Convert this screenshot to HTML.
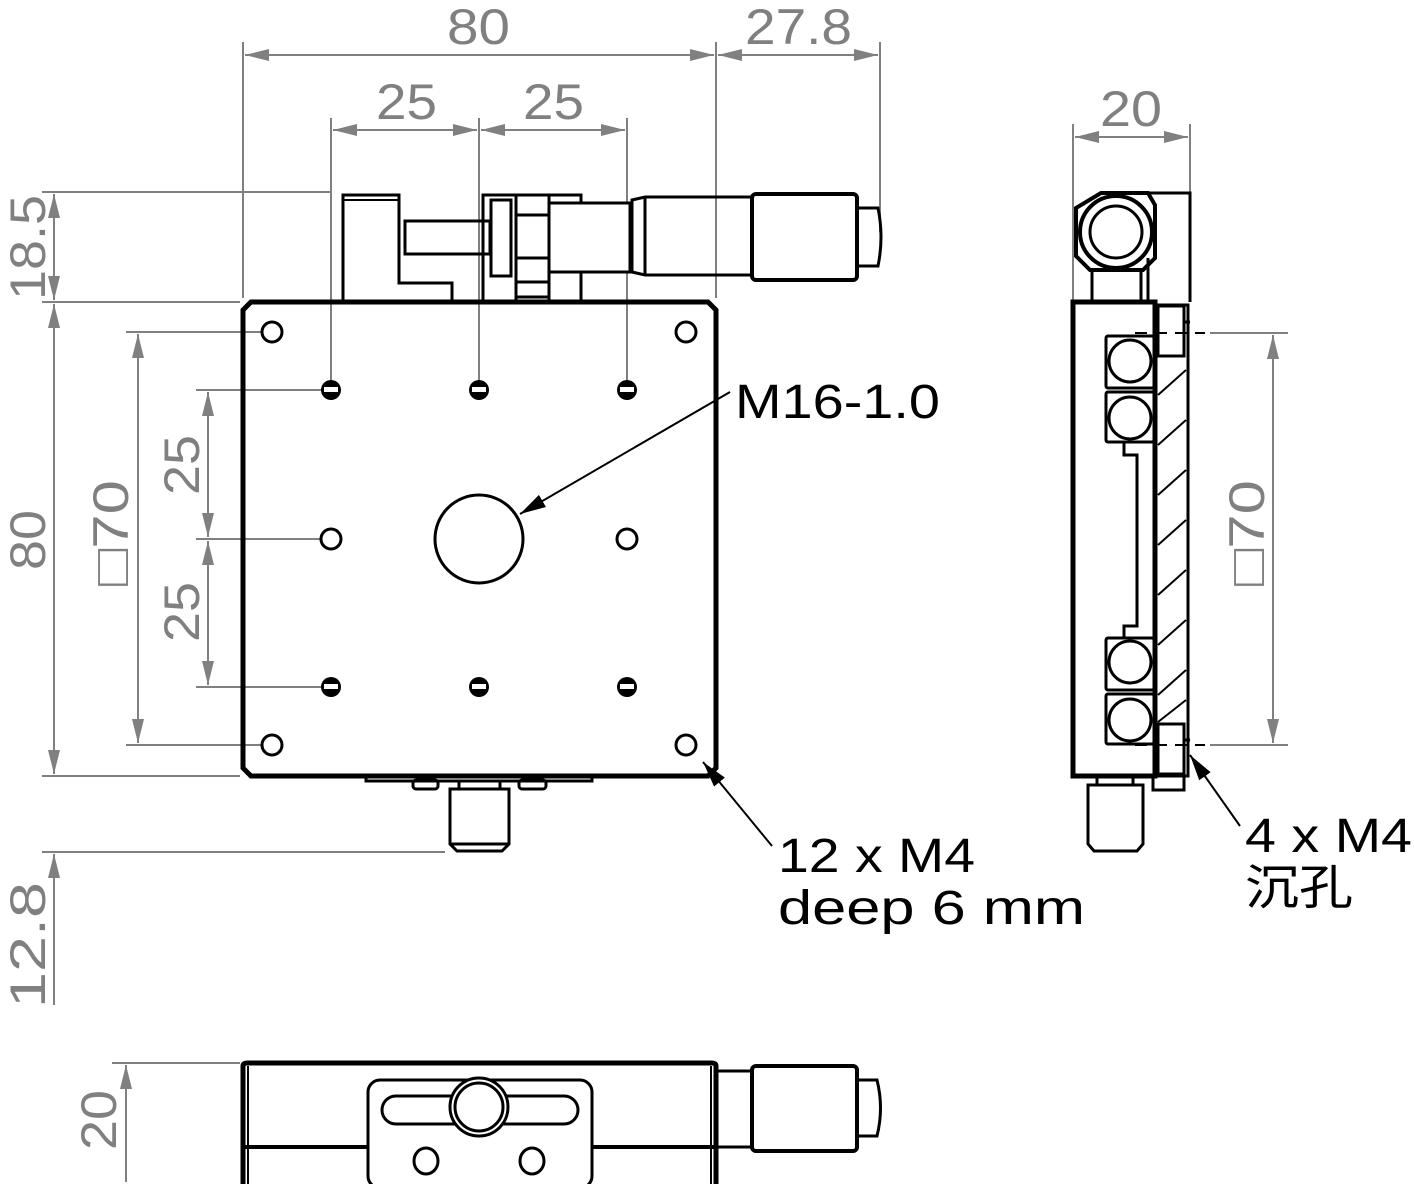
<!DOCTYPE html>
<html><head><meta charset="utf-8"><style>
html,body{margin:0;padding:0;background:#fff;}
svg{display:block;}
.d{fill:#808080;font-family:"Liberation Sans","DejaVu Sans",sans-serif;font-size:50px;}
.k{fill:#000;font-family:"Liberation Sans","Noto Sans CJK SC",sans-serif;font-size:48px;}
</style></head><body>
<svg width="1414" height="1184" viewBox="0 0 1414 1184" xmlns="http://www.w3.org/2000/svg">
<defs>
<marker id="a" viewBox="0 0 24 12" refX="24" refY="6" markerWidth="24" markerHeight="12" markerUnits="userSpaceOnUse" orient="auto-start-reverse"><path d="M0,0 L24,6 L0,12 z" fill="#808080"/></marker>
<marker id="b" viewBox="0 0 26 14" refX="26" refY="7" markerWidth="26" markerHeight="14" markerUnits="userSpaceOnUse" orient="auto"><path d="M0,0 L26,7 L0,14 z" fill="#000"/></marker>
<g id="th"><circle cx="0" cy="0" r="10" fill="#000"/><rect x="-7" y="-3" width="14" height="5" fill="#fff"/></g>
</defs>

<g stroke="#808080" stroke-width="2" fill="none">
 <line x1="243" y1="42" x2="243" y2="298"/>
 <line x1="716" y1="42" x2="716" y2="298"/>
 <line x1="880" y1="42" x2="880" y2="232"/>
 <line x1="331" y1="118" x2="331" y2="385"/>
 <line x1="479" y1="118" x2="479" y2="385"/>
 <line x1="627" y1="118" x2="627" y2="385"/>
 <line x1="245" y1="55" x2="714" y2="55" marker-start="url(#a)" marker-end="url(#a)"/>
 <line x1="718" y1="55" x2="878" y2="55" marker-start="url(#a)" marker-end="url(#a)"/>
 <line x1="333" y1="130" x2="477" y2="130" marker-start="url(#a)" marker-end="url(#a)"/>
 <line x1="481" y1="130" x2="625" y2="130" marker-start="url(#a)" marker-end="url(#a)"/>
 <line x1="42" y1="192" x2="330" y2="192"/>
 <line x1="42" y1="302" x2="240" y2="302"/>
 <line x1="42" y1="776" x2="240" y2="776"/>
 <line x1="42" y1="852" x2="445" y2="852"/>
 <line x1="54" y1="194" x2="54" y2="300" marker-start="url(#a)" marker-end="url(#a)"/>
 <line x1="54" y1="304" x2="54" y2="774" marker-start="url(#a)" marker-end="url(#a)"/>
 <line x1="54" y1="1005" x2="54" y2="854" marker-end="url(#a)"/>
 <line x1="126" y1="332" x2="262" y2="332"/>
 <line x1="126" y1="745" x2="262" y2="745"/>
 <line x1="138" y1="334" x2="138" y2="743" marker-start="url(#a)" marker-end="url(#a)"/>
 <line x1="196" y1="390" x2="322" y2="390"/>
 <line x1="196" y1="539" x2="322" y2="539"/>
 <line x1="196" y1="687" x2="322" y2="687"/>
 <line x1="208" y1="392" x2="208" y2="537" marker-start="url(#a)" marker-end="url(#a)"/>
 <line x1="208" y1="541" x2="208" y2="685" marker-start="url(#a)" marker-end="url(#a)"/>
 <line x1="1073" y1="124" x2="1073" y2="300"/>
 <line x1="1190" y1="124" x2="1190" y2="195"/>
 <line x1="1075" y1="137" x2="1188" y2="137" marker-start="url(#a)" marker-end="url(#a)"/>
 <line x1="1210" y1="333" x2="1288" y2="333"/>
 <line x1="1210" y1="745" x2="1288" y2="745"/>
 <line x1="1273" y1="335" x2="1273" y2="743" marker-start="url(#a)" marker-end="url(#a)"/>
 <line x1="112" y1="1063" x2="240" y2="1063"/>
 <line x1="126" y1="1065" x2="126" y2="1182" marker-start="url(#a)"/>
</g>
<g class="d" lengthAdjust="spacingAndGlyphs">
 <text x="447" y="44" textLength="63" lengthAdjust="spacingAndGlyphs">80</text>
 <text x="745" y="44" textLength="107" lengthAdjust="spacingAndGlyphs">27.8</text>
 <text x="376" y="119" textLength="61" lengthAdjust="spacingAndGlyphs">25</text>
 <text x="523" y="119" textLength="61" lengthAdjust="spacingAndGlyphs">25</text>
 <text x="1100" y="126" textLength="62" lengthAdjust="spacingAndGlyphs">20</text>
 <text transform="translate(45,300) rotate(-90)" textLength="105" lengthAdjust="spacingAndGlyphs">18.5</text>
 <text transform="translate(45,570) rotate(-90)" textLength="60" lengthAdjust="spacingAndGlyphs">80</text>
 <text transform="translate(45,1008) rotate(-90)" textLength="126" lengthAdjust="spacingAndGlyphs">12.8</text>
 <text transform="translate(128,586) rotate(-90)" textLength="106" lengthAdjust="spacingAndGlyphs">□70</text>
 <text transform="translate(199,495) rotate(-90)" textLength="60" lengthAdjust="spacingAndGlyphs">25</text>
 <text transform="translate(199,642) rotate(-90)" textLength="60" lengthAdjust="spacingAndGlyphs">25</text>
 <text transform="translate(1264,586) rotate(-90)" textLength="106" lengthAdjust="spacingAndGlyphs">□70</text>
 <text transform="translate(116,1150) rotate(-90)" textLength="60" lengthAdjust="spacingAndGlyphs">20</text>
</g>

<g stroke="#000" fill="none" stroke-width="3">
 <path d="M251,302 L708,302 L716,310 L716,768 L708,776 L251,776 L243,768 L243,310 Z" stroke-width="5"/>
 <path d="M343,302 L343,195 L399,195 L399,283 L452,283 L452,302"/>
 <line x1="343" y1="200" x2="399" y2="200" stroke-width="2"/>
 <rect x="405" y="221" width="85" height="33"/>
 <path d="M483,302 L483,195 L581,195 L581,302"/>
 <rect x="491" y="200" width="20" height="76"/>
 <path d="M516,195 L516,302 M549,195 L549,302 M516,215 L549,215 M516,258 L549,258 M516,282 L549,282 M516,297 L549,297"/>
 <rect x="549" y="203" width="81" height="69" fill="#fff"/>
 <path d="M632,200 L645,197 L752,197 L752,275 L645,275 L632,272 Z M645,197 L645,275"/>
 <rect x="752" y="194" width="105" height="86" rx="4" stroke-width="4"/>
 <path d="M857,208 L878,208 Q884,237 878,266 L857,266"/>
 <circle cx="272" cy="332" r="10"/><circle cx="686" cy="332" r="10"/>
 <circle cx="272" cy="745" r="10"/><circle cx="686" cy="745" r="10"/>
 <circle cx="331" cy="539" r="10"/><circle cx="627" cy="539" r="10"/>
 <circle cx="479" cy="539" r="44"/>
 <path d="M366,776 L366,781 L592,781 L592,776"/>
 <rect x="413" y="780" width="25" height="9" rx="3"/>
 <rect x="519" y="780" width="27" height="9" rx="3"/>
 <path d="M459,781 L459,789 M500,781 L500,789"/>
 <path d="M450,789 L509,789 L509,844 L502,851 L457,851 L450,844 Z M450,844 L509,844"/>
</g>
<use href="#th" x="331" y="390"/><use href="#th" x="479" y="390"/><use href="#th" x="627" y="390"/>
<use href="#th" x="331" y="687"/><use href="#th" x="479" y="687"/><use href="#th" x="627" y="687"/>

<g stroke="#000" fill="none" stroke-width="3">
 <path d="M1101,193 L1148,193 L1155,205 L1155,258 L1143,270 L1090,270 L1076,256 L1076,208 Z" stroke-width="4"/>
 <circle cx="1116" cy="232" r="36" stroke-width="4"/>
 <circle cx="1116" cy="232" r="26"/>
 <path d="M1148,193 L1190,193 L1190,302"/>
 <rect x="1092" y="270" width="49" height="32"/>
 <path d="M1148,258 L1148,302"/>
 <rect x="1073" y="302" width="82" height="474" stroke-width="5"/>
 <path d="M1155,305 L1188,305 L1188,776 L1155,776"/>
 <rect x="1158" y="306" width="26" height="50"/>
 <rect x="1158" y="724" width="26" height="50"/>
 <line x1="1184" y1="322" x2="1190" y2="322"/>
 <line x1="1184" y1="740" x2="1190" y2="740"/>
 <rect x="1106" y="336" width="48" height="52" rx="2"/>
 <rect x="1106" y="392" width="48" height="50" rx="2"/>
 <rect x="1106" y="638" width="48" height="52" rx="2"/>
 <rect x="1106" y="694" width="48" height="50" rx="2"/>
 <circle cx="1130" cy="361" r="21"/><circle cx="1130" cy="418" r="21"/>
 <circle cx="1130" cy="662" r="21"/><circle cx="1130" cy="720" r="21"/>
 <path d="M1124,442 L1124,455 L1137,455 L1137,626 L1124,626 L1124,638"/>
 <path d="M1155,356 L1155,724" stroke-width="2"/>
 <g stroke-width="2"><line x1="1158" y1="395" x2="1186" y2="370"/><line x1="1158" y1="445" x2="1186" y2="420"/><line x1="1158" y1="495" x2="1186" y2="470"/><line x1="1158" y1="545" x2="1186" y2="520"/><line x1="1158" y1="595" x2="1186" y2="570"/><line x1="1158" y1="645" x2="1186" y2="620"/><line x1="1158" y1="695" x2="1186" y2="670"/><line x1="1158" y1="722" x2="1186" y2="700"/></g>
 <path d="M1153,776 L1153,790 L1184,790 L1184,776"/>
 <path d="M1097,776 L1097,785 M1133,776 L1133,785"/>
 <path d="M1088,785 L1143,785 L1143,844 L1137,851 L1094,851 L1088,844 Z"/>
 <g stroke-dasharray="12,8" stroke-width="2"><line x1="1135" y1="333" x2="1205" y2="333"/><line x1="1135" y1="745" x2="1205" y2="745"/></g>
</g>

<g stroke="#000" fill="none" stroke-width="3">
 <path d="M243,1066 Q243,1063 247,1063 L712,1063 Q716,1063 716,1066 L716,1184 M243,1066 L243,1184" stroke-width="5"/>
 <line x1="248" y1="1066" x2="248" y2="1184" stroke-width="2"/>
 <line x1="711" y1="1066" x2="711" y2="1184" stroke-width="2"/>
 <line x1="243" y1="1147" x2="716" y2="1147" stroke-width="4"/>
 <rect x="368" y="1080" width="224" height="108" rx="12" fill="#fff"/>
 <rect x="382" y="1096" width="196" height="28" rx="14"/>
 <circle cx="479" cy="1107" r="29" fill="#fff"/>
 <circle cx="479" cy="1107" r="24"/>
 <ellipse cx="426" cy="1161" rx="12" ry="13"/>
 <ellipse cx="532" cy="1161" rx="12" ry="13"/>
 <rect x="716" y="1071" width="36" height="76"/>
 <rect x="752" y="1066" width="105" height="85" rx="4" stroke-width="4"/>
 <path d="M857,1080 L877,1080 Q884,1108 877,1136 L857,1136"/>
</g>

<g stroke="#000" stroke-width="2" fill="none">
 <line x1="730" y1="392" x2="520" y2="514" marker-end="url(#b)"/>
 <line x1="772" y1="846" x2="703" y2="762" marker-end="url(#b)"/>
 <line x1="1240" y1="826" x2="1190" y2="755" marker-end="url(#b)"/>
</g>
<g class="k">
 <text x="735" y="418" textLength="205" lengthAdjust="spacingAndGlyphs">M16-1.0</text>
 <text x="778" y="872" textLength="197" lengthAdjust="spacingAndGlyphs">12 x M4</text>
 <text x="778" y="924" textLength="307" lengthAdjust="spacingAndGlyphs">deep 6 mm</text>
 <text x="1245" y="852" textLength="167" lengthAdjust="spacingAndGlyphs">4 x M4</text>
 <text x="1245" y="904" textLength="108" lengthAdjust="spacingAndGlyphs">沉孔</text>
</g>
</svg>
</body></html>
